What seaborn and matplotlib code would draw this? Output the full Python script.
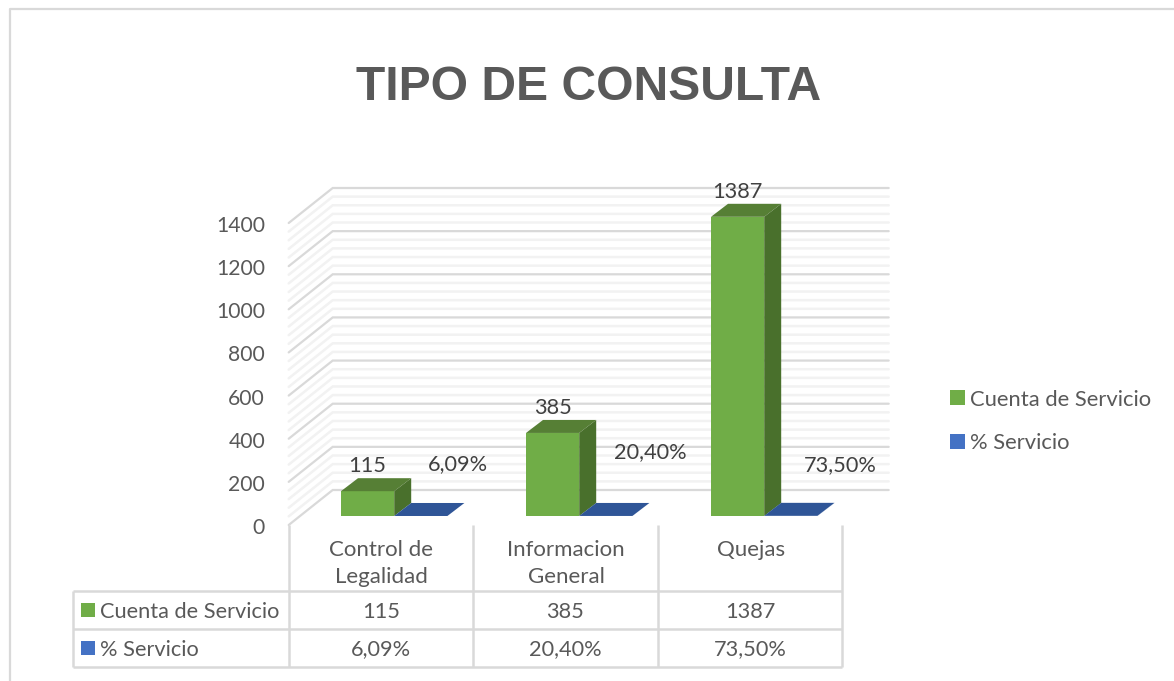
import pandas as pd
import numpy as np
import matplotlib.pyplot as plt
import seaborn as sns
from matplotlib.patches import Polygon, Patch
from matplotlib.transforms import ScaledTranslation

categorias = ["Control de\nLegalidad", "Informacion\nGeneral", "Quejas"]
cuenta = [115, 385, 1387]
porcentaje = [0.0609, 0.2040, 0.7350]
cuenta_txt = ["115", "385", "1387"]
porcentaje_txt = ["6,09%", "20,40%", "73,50%"]
series = ["Cuenta de Servicio", "% Servicio"]
major_ticks = [0, 200, 400, 600, 800, 1000, 1200, 1400]
minor_ticks = [v for v in range(40, 1400, 40) if v % 200 != 0]

sns.set_theme(style="white")
plt.rcParams["font.family"] = ["Lato", "DejaVu Sans"]

df = pd.DataFrame({
    "categoria": categorias * 2,
    "serie": [series[0]] * 3 + [series[1]] * 3,
    "valor": cuenta + porcentaje,
})

W, H = 1174, 681
TXT = "#595959"
FS = 15.7
GREEN, GREEN_TOP, GREEN_SIDE = "#70ad47", "#567f35", "#49702c"
BLUE, BLUE_TOP = "#4472c4", "#2f5597"

fig = plt.figure(figsize=(W / 100, H / 100), dpi=100, facecolor="white")

# background layer in pixels: frame and data table
bg = fig.add_axes([0, 0, 1, 1], zorder=0)
bg.set_xlim(0, W)
bg.set_ylim(H, 0)
bg.axis("off")
bg.plot([10, 10, W], [H, 9, 9], color="#d9d9d9", lw=1.6)

cols = [73, 289, 473, 658, 842]
rows = [591, 629, 667]
line = dict(color="#d9d9d9", lw=1.8, solid_capstyle="butt")
for y in rows:
    bg.plot([cols[0], cols[-1]], [y, y], **line)
bg.plot([cols[0], cols[0]], [rows[0], rows[-1]], **line)
for x in cols[1:]:
    bg.plot([x, x], [525, rows[-1]], **line)

row_txt = [cuenta_txt, porcentaje_txt]
for r, colour in enumerate([GREEN, BLUE]):
    yc = (rows[r] + rows[r + 1]) / 2
    bg.add_patch(plt.Rectangle((81, yc - 7), 14, 14, color=colour, lw=0))
    bg.text(100, yc + 1.5, series[r], color=TXT, fontsize=FS, va="center")
    for c in range(3):
        bg.text((cols[c + 1] + cols[c + 2]) / 2, yc + 1.5, row_txt[r][c],
                color=TXT, fontsize=FS, va="center", ha="center")

# main axes, front plane of the bars
left, right, bottom, top = 301.7, 856.7, 516, 214
ax = fig.add_axes([left / W, 1 - bottom / H, (right - left) / W, (bottom - top) / H], zorder=1)
ax.patch.set_alpha(0)

sns.barplot(data=df, x="categoria", y="valor", hue="serie", hue_order=series,
            palette=[GREEN, BLUE], width=0.575, dodge=True, gap=0,
            legend=False, ax=ax, saturation=1, linewidth=0)
ax.set_xlim(-0.5, 2.5)
ax.set_ylim(0, 1400)
ax.set_xlabel("")
ax.set_ylabel("")
sns.despine(ax=ax, left=True, bottom=True)

# pixel sizes in data units
px_x = 3 / (right - left)
px_y = 1400 / (bottom - top)

# walls and gridlines
def wall_line(v, colour, lw, z):
    xs = [-0.5 - 13 * px_x, -0.5 + 31 * px_x, 2.5 + 32 * px_x]
    ys = [v - 9 * px_y, v + 26 * px_y, v + 26 * px_y]
    ax.plot(xs, ys, color=colour, lw=lw, clip_on=False, zorder=z, solid_joinstyle="miter")

for v in minor_ticks:
    wall_line(v, "#f2f2f2", 1.8, 0.5)
for v in major_ticks:
    wall_line(v, "#d9d9d9", 1.6, 0.6)

# 3D faces from the bars that seaborn drew
dx, dy = 17 * px_x, 13 * px_y
for container, top_col, side_col in zip(ax.containers, [GREEN_TOP, BLUE_TOP], [GREEN_SIDE, BLUE_TOP]):
    for bar in container:
        x0, w, h = bar.get_x(), bar.get_width(), bar.get_height()
        bar.set_zorder(3)
        ax.add_patch(Polygon([(x0, h), (x0 + w, h), (x0 + w + dx, h + dy), (x0 + dx, h + dy)],
                             color=top_col, lw=0, zorder=3, clip_on=False))
        ax.add_patch(Polygon([(x0 + w, 0), (x0 + w + dx, dy), (x0 + w + dx, h + dy), (x0 + w, h)],
                             color=side_col, lw=0, zorder=3, clip_on=False))

# data labels
for bar, t in zip(ax.containers[0], cuenta_txt):
    ax.text(bar.get_x() + bar.get_width() / 2, bar.get_height() + 25 * px_y, t,
            color="#404040", fontsize=FS, ha="center", va="center", zorder=5, clip_on=False)
pct_shift = [(37, 52), (45, 64), (50, 51)]
for bar, t, (sx, sy) in zip(ax.containers[1], porcentaje_txt, pct_shift):
    ax.text(bar.get_x() + bar.get_width() / 2 + sx * px_x, bar.get_height() + sy * px_y, t,
            color="#404040", fontsize=FS, ha="center", va="center", zorder=5, clip_on=False)

# ticks sit on the front edge of the wall
ax.set_yticks(major_ticks)
ax.tick_params(axis="y", length=0, pad=26.4, labelsize=15.2, labelcolor=TXT)
ax.tick_params(axis="x", length=0, pad=17.2, labelsize=16, labelcolor=TXT)
for lab in ax.get_yticklabels():
    lab.set_transform(lab.get_transform() + ScaledTranslation(0, -10 / 100, fig.dpi_scale_trans))
for lab in ax.get_xticklabels():
    lab.set_transform(lab.get_transform() + ScaledTranslation(-13 / 100, 0, fig.dpi_scale_trans))
    lab.set_linespacing(1.47)

handles = [Patch(facecolor=GREEN, lw=0, label=series[0]), Patch(facecolor=BLUE, lw=0, label=series[1])]
fig.legend(handles=handles, loc="upper left", bbox_to_anchor=(943 / W, 1 - 383 / H),
           frameon=False, fontsize=15.8, labelcolor=TXT, handlelength=0.68, handleheight=0.68,
           handletextpad=0.27, labelspacing=1.07, borderaxespad=0, borderpad=0.3)

fig.text(589 / W, 1 - 88 / H, "TIPO DE CONSULTA", family="Liberation Sans", weight="bold",
         fontsize=34.6, color=TXT, ha="center", va="center")

fig.savefig("out.png", dpi=100)
